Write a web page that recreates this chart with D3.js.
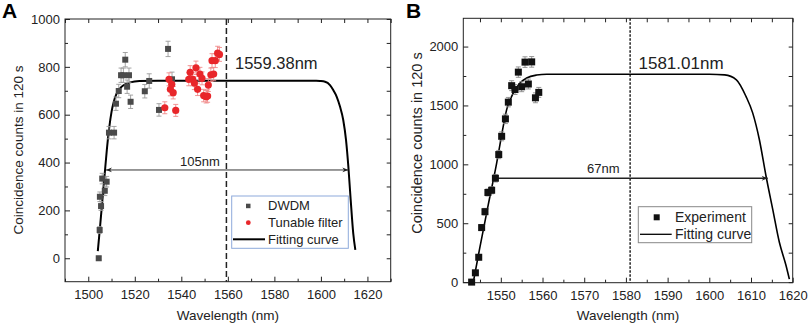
<!DOCTYPE html>
<html lang="en">
<head>
<meta charset="UTF-8">
<title>Coincidence counts vs wavelength</title>
<script src="https://d3js.org/d3.v7.min.js"></script>
<style>
    body {
        margin: 0;
        background: #fff;
        font-family: "Liberation Sans", Arial, sans-serif;
    }
    .frame {
        fill: none;
        stroke: #222;
        stroke-width: 1;
    }
    .axis path { display: none; }
    .axis line { stroke: #222; }
    .axis text {
        font-family: "Liberation Sans", Arial, sans-serif;
        font-size: 13px;
        fill: #222;
    }
    .title {
        font-size: 13.5px;
        fill: #222;
    }
</style>
</head>
<body>
<div id="chart"></div>
<script>
    // ---- panel A data ----
    const dwdmWl = [1504.5, 1504.9, 1505.5, 1505.0, 1506.0, 1507.1, 1507.9, 1508.9, 1511.1, 1511.9, 1513.1,
        1514.1, 1515.1, 1515.9, 1516.7, 1517.5, 1518.2, 1524.3, 1526.2, 1530.4, 1534.3, 1536.0];
    const dwdmCounts = [0, 118, 218, 257, 333, 282, 320, 525, 525, 646, 699,
        765, 765, 830, 717, 765, 654, 698, 741, 620, 875, 748];
    const dwdmErr = [8, 14, 18, 20, 22, 20, 22, 26, 26, 28, 28,
        30, 30, 30, 28, 30, 28, 28, 30, 26, 32, 30];

    const tunableWl = [1532.9, 1534.7, 1535.3, 1535.9, 1536.5, 1537.6, 1543.2, 1543.8, 1544.9, 1545.6, 1546.3,
        1547.0, 1548.0, 1548.9, 1549.6, 1550.7, 1551.3, 1551.6, 1552.7, 1553.2, 1553.9, 1554.6, 1555.6, 1556.4];
    const tunableCounts = [629, 748, 706, 727, 692, 618, 748, 777, 748, 732, 796,
        706, 770, 752, 680, 675, 678, 724, 767, 826, 770, 826, 857, 852];
    const tunableErr = [25, 27, 27, 27, 26, 25, 27, 28, 27, 27, 28,
        26, 28, 27, 26, 26, 26, 27, 28, 29, 28, 29, 29, 29];

    const fitAWl = [1504.1, 1505, 1506, 1507, 1508, 1509, 1510, 1511, 1512, 1513, 1515, 1518, 1522, 1530,
        1560, 1590, 1598, 1599.6, 1601.8, 1603.9, 1605.3, 1606.8, 1608.2, 1609.6, 1610.8, 1611.8,
        1612.8, 1613.9, 1614.8];
    const fitACounts = [30, 125, 235, 345, 455, 545, 612, 655, 684, 702, 722, 735, 741, 742,
        742, 742, 742, 741, 738, 724, 703, 675, 634, 578, 494, 383,
        244, 104, 35];

    const ticksAx = [1500, 1520, 1540, 1560, 1580, 1600, 1620];
    const minorAx = [1490, 1510, 1530, 1550, 1570, 1590, 1610, 1630];
    const ticksAy = [0, 200, 400, 600, 800, 1000];
    const minorAy = [100, 300, 500, 700, 900];

    // ---- panel B data ----
    const expWl = [1543.0, 1543.9, 1544.7, 1545.4, 1546.2, 1546.9, 1547.8, 1548.7, 1549.5, 1550.2, 1551.1,
        1551.8, 1552.6, 1553.4, 1554.2, 1555.0, 1555.8, 1556.6, 1557.4, 1558.3, 1559.1];
    const expCounts = [0, 79, 211, 463, 598, 761, 780, 882, 1083, 1238, 1386,
        1528, 1668, 1635, 1783, 1659, 1868, 1682, 1870, 1565, 1611];
    const expErr = [6, 15, 20, 25, 28, 30, 30, 32, 35, 38, 40,
        40, 42, 42, 44, 42, 45, 42, 45, 42, 42];

    const fitBWl = [1543.4, 1545, 1547, 1549, 1550.2, 1551.4, 1553.0, 1554.6, 1556.2, 1558.6, 1561,
        1580, 1600, 1603.7, 1606.5, 1608.8, 1610.4, 1612.0, 1613.6, 1615.2, 1616.8, 1618.4, 1619.2];
    const fitBCounts = [0, 300, 660, 1010, 1250, 1465, 1606, 1690, 1733, 1758, 1765,
        1765, 1765, 1760, 1718, 1577, 1437, 1211, 901, 620, 338, 141, 25];

    const ticksBx = [1550, 1560, 1570, 1580, 1590, 1600, 1610, 1620];
    const minorBx = [1545, 1555, 1565, 1575, 1585, 1595, 1605, 1615];
    const ticksBy = [0, 500, 1000, 1500, 2000];
    const minorBy = [250, 750, 1250, 1750];

    // annotations
    const centreA = 1559.38, widthA = [1507.6, 1611.8], widthAy = 369;
    const centreB = 1581.01, widthB = [1549.0, 1614.0], widthBy = 882;

    const svg = d3.select("#chart")
        .append("svg")
        .attr("width", 809)
        .attr("height", 327);

    const defs = svg.append("defs");
    defs.append("marker")
        .attr("id", "arrow")
        .attr("viewBox", "0 -5 10 10")
        .attr("refX", 10)
        .attr("refY", 0)
        .attr("markerWidth", 9)
        .attr("markerHeight", 6)
        .attr("markerUnits", "userSpaceOnUse")
        .attr("orient", "auto-start-reverse")
        .append("path")
        .attr("d", "M0,-4L10,0L0,4L3,0Z")
        .attr("fill", "#222");

    function drawPanel(o) {
        const x = d3.scaleLinear().domain(o.xDomain).range([o.left, o.right]);
        const y = d3.scaleLinear().domain(o.yDomain).range([o.bottom, o.top]);
        const g = svg.append("g");

        defs.append("clipPath").attr("id", "clip" + o.id)
            .append("rect")
            .attr("x", o.left).attr("y", o.top)
            .attr("width", o.right - o.left).attr("height", o.bottom - o.top);

        // axes: inward ticks on all four sides
        g.append("g").attr("class", "axis")
            .attr("transform", `translate(0,${o.bottom})`)
            .call(d3.axisBottom(x).tickValues(o.xTicks).tickSize(-5).tickPadding(8).tickFormat(d3.format("d")));
        g.append("g").attr("class", "axis")
            .attr("transform", `translate(0,${o.bottom})`)
            .call(d3.axisBottom(x).tickValues(o.xMinor).tickSize(-3).tickFormat(""));
        g.append("g").attr("class", "axis")
            .attr("transform", `translate(0,${o.top})`)
            .call(d3.axisTop(x).tickValues(o.xTicks.concat(o.xMinor)).tickSize(-4).tickFormat(""));
        g.append("g").attr("class", "axis")
            .attr("transform", `translate(${o.left},0)`)
            .call(d3.axisLeft(y).tickValues(o.yTicks).tickSize(-5).tickPadding(5).tickFormat(d3.format("d")));
        g.append("g").attr("class", "axis")
            .attr("transform", `translate(${o.left},0)`)
            .call(d3.axisLeft(y).tickValues(o.yMinor).tickSize(-3).tickFormat(""));
        g.append("g").attr("class", "axis")
            .attr("transform", `translate(${o.right},0)`)
            .call(d3.axisRight(y).tickValues(o.yTicks.concat(o.yMinor)).tickSize(-4).tickFormat(""));

        g.append("rect").attr("class", "frame")
            .attr("x", o.left).attr("y", o.top)
            .attr("width", o.right - o.left).attr("height", o.bottom - o.top);

        // titles
        g.append("text").attr("class", "title")
            .attr("x", (o.left + o.right) / 2).attr("y", 320)
            .attr("text-anchor", "middle")
            .text("Wavelength (nm)");
        g.append("text").attr("class", "title")
            .attr("transform", `translate(${o.yTitleX},${o.yTitleY}) rotate(-90)`)
            .attr("text-anchor", "middle")
            .attr("dy", "0.35em")
            .style("font-size", o.yTitleSize)
            .text("Coincidence counts in 120 s");
        g.append("text")
            .attr("x", o.letterX).attr("y", 18)
            .style("font-size", "21px").style("font-weight", "bold")
            .text(o.letter);

        return { x, y, g };
    }

    function errorBars(g, x, y, wl, counts, err, color) {
        const eb = g.append("g").attr("stroke", color).attr("stroke-width", 0.9);
        wl.forEach((w, i) => {
            const cx = x(w), lo = y(counts[i] - err[i]), hi = y(counts[i] + err[i]);
            eb.append("line").attr("x1", cx).attr("x2", cx).attr("y1", lo).attr("y2", hi);
            eb.append("line").attr("x1", cx - 2.5).attr("x2", cx + 2.5).attr("y1", lo).attr("y2", lo);
            eb.append("line").attr("x1", cx - 2.5).attr("x2", cx + 2.5).attr("y1", hi).attr("y2", hi);
        });
    }

    // ---------------- panel A ----------------
    const A = drawPanel({
        id: "A", letter: "A", letterX: 2,
        left: 65, right: 390.7, top: 19, bottom: 281.7,
        xDomain: [1490, 1630], yDomain: [-98, 1000],
        xTicks: ticksAx, xMinor: minorAx, yTicks: ticksAy, yMinor: minorAy,
        yTitleX: 18, yTitleY: 150, yTitleSize: "13.5px"
    });

    A.g.append("line")
        .attr("x1", A.x(centreA)).attr("x2", A.x(centreA))
        .attr("y1", 19).attr("y2", 281.7)
        .attr("stroke", "#222").attr("stroke-width", 1.5)
        .attr("stroke-dasharray", "6,3");

    A.g.append("path")
        .datum(fitAWl.map((w, i) => [w, fitACounts[i]]))
        .attr("clip-path", "url(#clipA)")
        .attr("fill", "none").attr("stroke", "#000").attr("stroke-width", 2)
        .attr("d", d3.line().x(d => A.x(d[0])).y(d => A.y(d[1])).curve(d3.curveMonotoneX));

    A.g.append("line")
        .attr("x1", A.x(widthA[0])).attr("x2", A.x(widthA[1]))
        .attr("y1", A.y(widthAy)).attr("y2", A.y(widthAy))
        .attr("stroke", "#333").attr("stroke-width", 1)
        .attr("marker-start", "url(#arrow)").attr("marker-end", "url(#arrow)");

    A.g.append("text").attr("x", A.x(1548)).attr("y", 166)
        .attr("text-anchor", "middle").style("font-size", "13px").attr("fill", "#222")
        .text("105nm");
    A.g.append("text").attr("x", 235).attr("y", 68.5)
        .style("font-size", "16.5px").attr("fill", "#222")
        .text("1559.38nm");

    errorBars(A.g, A.x, A.y, dwdmWl, dwdmCounts, dwdmErr, "#9a9a9a");
    errorBars(A.g, A.x, A.y, tunableWl, tunableCounts, tunableErr, "#f08a8a");

    A.g.append("g").selectAll("rect")
        .data(dwdmWl)
        .join("rect")
        .attr("x", (d, i) => A.x(d) - 3).attr("y", (d, i) => A.y(dwdmCounts[i]) - 3)
        .attr("width", 6).attr("height", 6)
        .attr("fill", "#4a4a4a");

    A.g.append("g").selectAll("circle")
        .data(tunableWl)
        .join("circle")
        .attr("cx", d => A.x(d)).attr("cy", (d, i) => A.y(tunableCounts[i]))
        .attr("r", 3.6)
        .attr("fill", "#e8262a");

    // legend A
    const legA = A.g.append("g");
    legA.append("rect")
        .attr("x", 231.7).attr("y", 196).attr("width", 116.6).attr("height", 52.3)
        .attr("fill", "#fff").attr("stroke", "#8eaadb").attr("stroke-width", 1);
    legA.append("rect").attr("x", 246).attr("y", 203.7).attr("width", 4.5).attr("height", 4.5).attr("fill", "#4a4a4a");
    legA.append("circle").attr("cx", 248.3).attr("cy", 222.7).attr("r", 2.4).attr("fill", "#e8262a");
    legA.append("line").attr("x1", 233).attr("x2", 265).attr("y1", 239.3).attr("y2", 239.3)
        .attr("stroke", "#000").attr("stroke-width", 2);
    ["DWDM", "Tunable filter", "Fitting curve"].forEach((t, i) => {
        legA.append("text").attr("x", 268).attr("y", 205.7 + i * 16.8).attr("dy", "0.35em")
            .style("font-size", "13px").attr("fill", "#222").text(t);
    });

    // ---------------- panel B ----------------
    const B = drawPanel({
        id: "B", letter: "B", letterX: 406,
        left: 463.3, right: 792.7, top: 18.3, bottom: 282.7,
        xDomain: [1541, 1620], yDomain: [-5, 2240],
        xTicks: ticksBx, xMinor: minorBx, yTicks: ticksBy, yMinor: minorBy,
        yTitleX: 416.5, yTitleY: 143, yTitleSize: "14.5px"
    });

    B.g.append("line")
        .attr("x1", B.x(centreB)).attr("x2", B.x(centreB))
        .attr("y1", 18.3).attr("y2", 282.7)
        .attr("stroke", "#222").attr("stroke-width", 1.5)
        .attr("stroke-dasharray", "2.5,1.5");

    B.g.append("path")
        .datum(fitBWl.map((w, i) => [w, fitBCounts[i]]))
        .attr("clip-path", "url(#clipB)")
        .attr("fill", "none").attr("stroke", "#000").attr("stroke-width", 1.6)
        .attr("d", d3.line().x(d => B.x(d[0])).y(d => B.y(d[1])).curve(d3.curveMonotoneX));

    B.g.append("line")
        .attr("x1", B.x(widthB[0])).attr("x2", B.x(widthB[1]))
        .attr("y1", B.y(widthBy)).attr("y2", B.y(widthBy))
        .attr("stroke", "#222").attr("stroke-width", 1.3)
        .attr("marker-end", "url(#arrow)");

    B.g.append("text").attr("x", 603.3).attr("y", 173.3)
        .attr("text-anchor", "middle").style("font-size", "13px").attr("fill", "#222")
        .text("67nm");
    B.g.append("text").attr("x", 638.5).attr("y", 68.5)
        .style("font-size", "17px").attr("fill", "#222")
        .text("1581.01nm");

    errorBars(B.g, B.x, B.y, expWl, expCounts, expErr, "#8a8a8a");

    B.g.append("g").selectAll("rect")
        .data(expWl)
        .join("rect")
        .attr("x", d => B.x(d) - 3.5).attr("y", (d, i) => B.y(expCounts[i]) - 3.5)
        .attr("width", 7).attr("height", 7)
        .attr("fill", "#111");

    // legend B
    const legB = B.g.append("g");
    legB.append("rect")
        .attr("x", 638.3).attr("y", 206.7).attr("width", 113.4).attr("height", 36)
        .attr("fill", "#fff").attr("stroke", "#888").attr("stroke-width", 1);
    legB.append("rect").attr("x", 653.7).attr("y", 214.3).attr("width", 6).attr("height", 6).attr("fill", "#111");
    legB.append("line").attr("x1", 640).attr("x2", 671.7).attr("y1", 234.3).attr("y2", 234.3)
        .attr("stroke", "#000").attr("stroke-width", 1.3);
    ["Experiment", "Fitting curve"].forEach((t, i) => {
        legB.append("text").attr("x", 675).attr("y", 217.3 + i * 17).attr("dy", "0.35em")
            .style("font-size", "14px").attr("fill", "#222").text(t);
    });
</script>
</body>
</html>
